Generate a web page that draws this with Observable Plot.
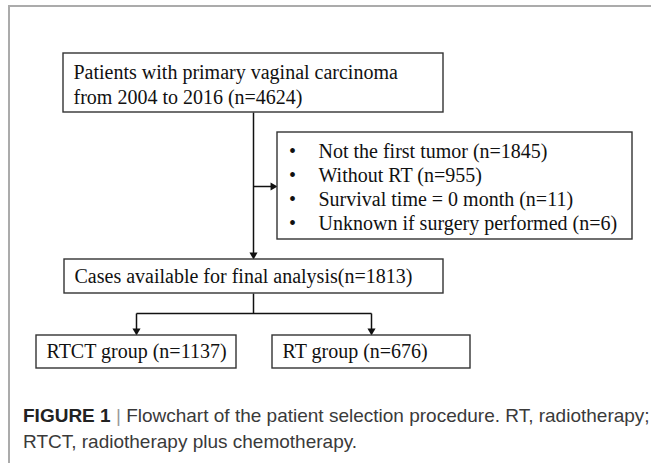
<!DOCTYPE html>
<html>
<head>
<meta charset="utf-8">
<script src="https://cdn.jsdelivr.net/npm/d3@7"></script>
<script src="https://cdn.jsdelivr.net/npm/@observablehq/plot@0.6"></script>
<style>
  html, body { margin: 0; padding: 0; background: #fff; }
  body { width: 651px; height: 463px; overflow: hidden; position: relative; }
  #frame { position: absolute; left: 8px; top: 5px; width: 700px; height: 520px;
           border-left: 2px solid #ababab; border-top: 2px solid #ababab; }
  #chart { position: absolute; left: 0; top: 0; }
  #caption { position: absolute; left: 23px; top: 403px; white-space: nowrap;
             font-family: "Liberation Sans", Arial, sans-serif; font-size: 19px;
             line-height: 26px; color: #3a3a3a; }
  #caption b { color: #222; }
  #caption .sep { color: #9a9a9a; }
</style>
</head>
<body>
<div id="frame"></div>
<div id="chart"></div>
<div id="caption"></div>
<script>
// ---------- data ----------
const sourceLines = ["Patients with primary vaginal carcinoma", "from 2004 to 2016"];
const sourceN = 4624;
const exclusionReasons = ["Not the first tumor", "Without RT", "Survival time = 0 month", "Unknown if surgery performed"];
const exclusionN = [1845, 955, 11, 6];
const finalLabel = "Cases available for final analysis";
const finalN = 1813;
const groupLabels = ["RTCT group", "RT group"];
const groupN = [1137, 676];
const captionLabel = "FIGURE 1";
const captionLines = ["Flowchart of the patient selection procedure. RT, radiotherapy;", "RTCT, radiotherapy plus chemotherapy."];

// ---------- layout (flowchart geometry, page pixels) ----------
const W = 651, H = 400;
const L = {
  source: {x1: 63, x2: 443, y1: 53, y2: 112},
  excl:   {x1: 277, x2: 632, y1: 132, y2: 239},
  final:  {x1: 64, x2: 443, y1: 259, y2: 293},
  groups: [{x1: 36, x2: 236, y1: 335, y2: 368}, {x1: 272, x2: 470, y1: 335, y2: 368}],
  trunkX: 253, exclY: 186, branchY: 313, branchX: [136, 371],
  pad: 10, lineH: 25, exclLineH: 24, exclTop: 151, bulletX: 292, exclTextX: 318
};

const boxes = [L.source, L.excl, L.final, ...L.groups];

const texts = [
  {x: L.source.x1 + L.pad, y: 72, t: sourceLines[0]},
  {x: L.source.x1 + L.pad, y: 72 + L.lineH, t: `${sourceLines[1]} (n=${sourceN})`},
  ...exclusionReasons.map((r, i) => ({x: L.exclTextX, y: L.exclTop + i * L.exclLineH, t: `${r} (n=${exclusionN[i]})`})),
  {x: L.final.x1 + L.pad, y: (L.final.y1 + L.final.y2) / 2, t: `${finalLabel}(n=${finalN})`},
  ...groupLabels.map((g, i) => ({x: L.groups[i].x1 + L.pad, y: (L.groups[i].y1 + L.groups[i].y2) / 2, t: `${g} (n=${groupN[i]})`}))
];
const bullets = exclusionReasons.map((r, i) => ({x: L.bulletX, y: L.exclTop + i * L.exclLineH}));

const segs = [
  {x1: L.trunkX, y1: L.source.y2, x2: L.trunkX, y2: L.final.y1 - 4},
  {x1: L.trunkX, y1: L.exclY, x2: L.excl.x1 - 4, y2: L.exclY},
  {x1: L.trunkX, y1: L.final.y2, x2: L.trunkX, y2: L.branchY},
  {x1: L.branchX[0], y1: L.branchY, x2: L.branchX[1], y2: L.branchY},
  ...L.branchX.map((bx, i) => ({x1: bx, y1: L.branchY, x2: bx, y2: L.groups[i].y1 - 4}))
];
const hOff = 4.6; // triangle centroid offset from tip
const heads = [
  {x: L.trunkX, y: L.final.y1 - hOff, rot: 180},
  {x: L.excl.x1 - hOff, y: L.exclY, rot: 90},
  ...L.branchX.map((bx, i) => ({x: bx, y: L.groups[i].y1 - hOff, rot: 180}))
];

const chart = Plot.plot({
  width: W, height: H, margin: 0,
  x: {domain: [0, W], range: [0, W], axis: null},
  y: {domain: [0, H], range: [0, H], axis: null},
  style: {background: "transparent"},
  marks: [
    Plot.link(segs, {x1: "x1", y1: "y1", x2: "x2", y2: "y2", stroke: "#111", strokeWidth: 1.5}),
    Plot.dot(heads, {x: "x", y: "y", symbol: "triangle", r: 3, rotate: "rot", fill: "#111", stroke: "none"}),
    Plot.rect(boxes, {x1: "x1", x2: "x2", y1: "y1", y2: "y2", fill: "white", stroke: "#333", strokeWidth: 1.4}),
    Plot.text(bullets, {x: "x", y: "y", text: () => "•", fontFamily: "Liberation Serif", fontSize: 20, fill: "#111"}),
    Plot.text(texts, {x: "x", y: "y", text: "t", textAnchor: "start", lineAnchor: "middle",
                      fontFamily: "Liberation Serif, Times New Roman, serif", fontSize: 20, fill: "#111"})
  ]
});
document.getElementById("chart").appendChild(chart);

const cap = document.getElementById("caption");
const b = document.createElement("b"); b.textContent = captionLabel; cap.appendChild(b);
const sep = document.createElement("span"); sep.className = "sep"; sep.textContent = " | "; cap.appendChild(sep);
cap.appendChild(document.createTextNode(captionLines[0]));
cap.appendChild(document.createElement("br"));
cap.appendChild(document.createTextNode(captionLines[1]));
</script>
</body>
</html>
